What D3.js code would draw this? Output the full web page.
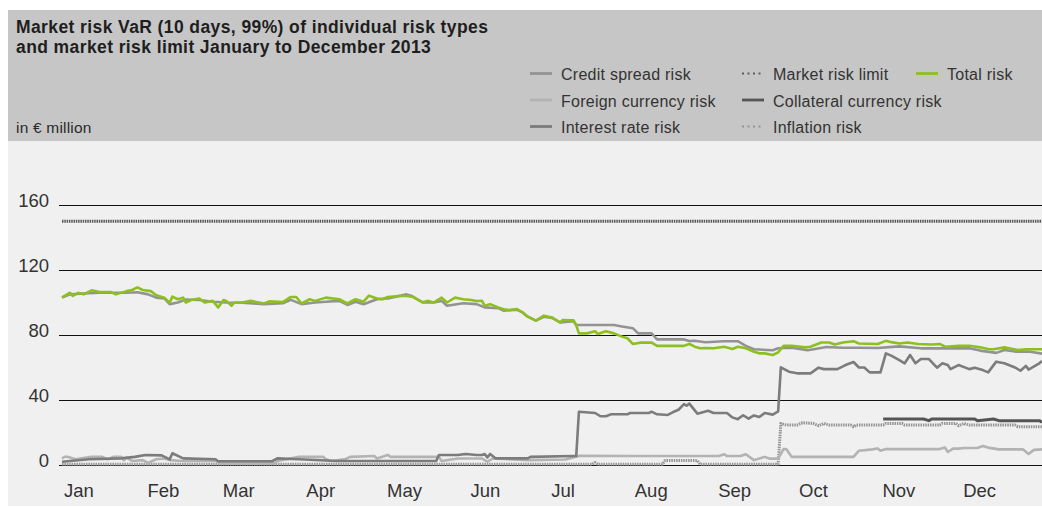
<!DOCTYPE html>
<html><head><meta charset="utf-8">
<script src="https://cdn.jsdelivr.net/npm/d3@7"></script>
<style>
body{margin:0;background:#fff}
svg{display:block}
text{font-family:"Liberation Sans",Arial,sans-serif}
</style></head>
<body><svg id="c" width="1042" height="507"></svg>
<script>
// ---- data: [day of year 2013, value in EUR million] ----
const titleLines = ["Market risk VaR (10 days, 99%) of individual risk types","and market risk limit January to December 2013"];
const unitLabel = "in € million";
const yTicks = [0, 40, 80, 120, 160];

const totalRisk = [[1,103.2],[4,106],[5,104],[7,106],[9,105],[12,107.5],[15,106.5],[19,106.5],[21,105],[25,107],[27,107.7],[29,109.3],[31,107.7],[34,107],[36,104.5],[39,103],[41,99.9],[42,103.6],[44,102],[46,103],[47,100],[49,101.5],[52,102.5],[54,100],[57,101],[59,97],[61,101.5],[62,101],[64,98],[65,100],[68,100],[71,101],[76,99.4],[78,100.7],[83,100.3],[86,103.4],[88,103.4],[90,99.4],[93,102],[95,101],[99,103],[104,102],[107,99.4],[110,102],[111,101.6],[113,100.5],[115,104.2],[118,102.5],[120,102],[122,103.4],[126,104],[129,104],[131,103.6],[135,100.1],[137,101],[139,100],[142,103],[144,100],[147,103],[150,102],[153,101.5],[155,100.9],[157,101],[158,98],[160,99],[163,97],[165,95.8],[167,95.4],[170,96],[172,94],[174,91.3],[177,88.8],[180,91.9],[183,90.8],[186,87.7],[187,89.2],[191,89],[192,86],[193,81],[196,81],[199,82.3],[200,80.6],[203,82.3],[206,81],[209,79],[211,78],[213,74.5],[216,75.3],[220,75.3],[222,73.3],[232,73.3],[234,74.5],[236,72.8],[238,71.8],[240,72],[243,71.8],[247,72.8],[250,71.4],[252,72.8],[255,71.8],[258,69.7],[260,68.7],[262,68.7],[265,67.7],[267,69.3],[269,73.4],[272,73.4],[277,72.4],[279,72.8],[283,75.4],[286,75.4],[288,74.2],[291,75.4],[295,76.2],[297,74.8],[304,74.5],[307,76.4],[309,75.6],[312,74.8],[315,75.4],[319,74.5],[324,74.2],[327,74.5],[329,72.8],[334,73.4],[338,73.4],[342,72.4],[345,71.4],[347,71.2],[351,72.4],[356,70.8],[359,71.2],[365,71.2]];

const creditSpreadRisk = [[1,103],[4,105],[9,105.5],[15,106],[25,106],[29,106.3],[33,105],[36,103],[39,102.5],[41,99],[44,100],[47,101.8],[52,101.5],[57,100.5],[62,100],[68,99.8],[76,99],[83,99.5],[86,101.6],[90,99],[95,100],[99,100.5],[104,101],[107,98.5],[110,100.5],[113,98.9],[118,102],[122,102.5],[129,105],[131,104],[135,100],[139,100],[142,101],[144,98],[150,99.5],[155,99],[158,97],[163,96.5],[165,95],[170,95.5],[172,94],[174,91.3],[177,88.8],[180,91.2],[183,90.5],[186,87.7],[191,88.5],[192,86.2],[206,86.2],[209,85.2],[213,84.2],[215,81],[220,81],[222,77.3],[232,77.3],[234,76.3],[236,76.5],[240,75.5],[247,76.2],[252,76.2],[255,73.3],[258,71.2],[265,70.6],[267,71.8],[272,72.2],[278,70.6],[285,72.6],[291,72.2],[297,72.2],[304,72],[312,73],[320,71.8],[338,71.8],[342,70.4],[348,69],[351,70.8],[355,69.8],[360,69.8],[365,68.5]];

const interestRateRisk = [[1,2],[11,3.5],[23,4.1],[28,5],[32,6.2],[38,5.9],[41,3.5],[42,7.2],[46,4.1],[58,3.5],[59,2.3],[79,2.3],[81,4.1],[89,3.5],[103,2.5],[140,2.5],[141,6.2],[148,6.2],[151,6.8],[155,6.2],[157,6.2],[158,6.8],[159,4.7],[160,6.8],[162,4.1],[174,4.1],[175,5],[191,5.5],[192,5.5],[193,32.8],[199,32],[201,30],[203,30],[205,31.2],[211,31.2],[212,32],[219,32],[220,32.8],[222,31.2],[226,30.8],[228,32.6],[230,34],[232,37.5],[233,36.5],[234,37.8],[237,31.6],[241,33.4],[243,32],[248,32],[250,29.3],[252,28.2],[254,30.6],[256,28.5],[258,30.5],[260,29.5],[262,32],[265,31],[267,33],[268,60.1],[271,57.4],[274,56.4],[279,56.4],[282,59.9],[284,59],[289,59],[292,61.5],[295,63.4],[297,60],[299,60],[301,57],[305,57],[307,68.7],[309,67.3],[312,64.6],[314,62.6],[316,67.7],[318,62.6],[320,65.2],[323,65.2],[326,59.9],[328,62.6],[330,61.5],[331,59],[334,61.5],[338,59],[340,59.9],[343,58.4],[345,57],[348,63.6],[351,62.6],[355,60],[357,58],[359,61],[360,58.7],[364,62.6],[365,64]];

const foreignCurrencyRisk = [[1,4],[2,5.1],[3,5.1],[6,3.5],[12,5],[16,5],[18,3.5],[20,5],[23,5],[24,3],[25,4.5],[27,2.5],[31,3],[33,1.3],[36,3.5],[39,4],[41,3],[46,2.5],[58,2.5],[60,1],[80,1],[81,2.5],[89,5],[98,5],[99,3.5],[101,2.5],[106,3.5],[108,5],[117,5.5],[118,4],[122,6.2],[123,5],[141,5],[142,2.5],[148,4],[157,4],[159,2],[161,4],[174,3],[188,3.4],[193,5.6],[212,5.5],[245,5.5],[247,6.6],[248,5.5],[253,5.5],[255,6.6],[258,3],[262,5],[264,3.9],[267,3.9],[269,9.8],[270,9.8],[272,5],[295,5],[297,8.8],[302,9.6],[304,10.2],[305,8.8],[307,9.8],[327,9.8],[329,10.7],[330,8],[332,10.1],[334,10.1],[336,10.5],[341,10.5],[343,11.7],[345,10.7],[349,9.6],[358,9.6],[360,6.8],[362,9.3],[365,9.6]];

const collateralCurrencyRisk = [[306,28.3],[321,28.3],[323,27.3],[324,28.3],[340,28.3],[341,27.3],[347,28.3],[349,27.3],[364,27.3],[365,26.3]];

const inflationRisk = [[1,0.5],[198,0.5],[199,1.5],[200,0.5],[224,0.5],[225,2.7],[237,2.7],[238,0.5],[267,0.5],[268,25.6],[270,24.6],[274,24.6],[276,26],[280,25.6],[282,24.2],[284,25.6],[286,24.6],[294,24.6],[295,23.6],[296,24.6],[306,24.6],[307,25.6],[313,25.6],[314,24.6],[327,24.6],[328,25.6],[333,25.6],[334,24.2],[336,25.6],[338,24.6],[355,24.6],[356,23.6],[365,23.6]];

const marketRiskLimit = [[1,150],[365,150]];

// ---- drawing ----
const svg = d3.select("#c");
const W = 1042, H = 507;

svg.append("rect").attr("x",8).attr("y",10).attr("width",W-8).attr("height",131).attr("fill","#c6c6c6");
svg.append("rect").attr("x",8).attr("y",141).attr("width",W-8).attr("height",365).attr("fill","#f0f0f0");

svg.selectAll("text.title").data(titleLines).join("text").attr("class","title")
  .attr("x",16).attr("y",(d,i)=>33+i*19.5)
  .attr("font-size",17.5).attr("font-weight","bold").attr("letter-spacing",0.4)
  .attr("fill","#1e1e1e").text(d=>d);
svg.append("text").attr("x",16).attr("y",133).attr("font-size",15.5).attr("letter-spacing",0.2)
  .attr("fill","#2a2a2a").text(unitLabel);

const x = d3.scaleTime().domain([new Date(2013,0,1), new Date(2013,11,31)]).range([62,1042]);
const y = d3.scaleLinear().domain([0,160]).range([465,205]);
const toDate = d => new Date(2013,0,d);

// grid + y labels
const g = svg.append("g");
g.selectAll("line.grid").data(yTicks).join("line").attr("class","grid")
  .attr("x1",59).attr("x2",W).attr("y1",d=>y(d)+0.5).attr("y2",d=>y(d)+0.5)
  .attr("stroke","#111").attr("stroke-width",1).attr("shape-rendering","crispEdges");
g.selectAll("text.yl").data(yTicks).join("text").attr("class","yl")
  .attr("x",49).attr("y",d=>y(d)+1.5).attr("text-anchor","end")
  .attr("font-size",18.5).attr("fill","#333").text(d=>d);

// month labels
const months = d3.timeMonth.range(new Date(2013,0,1), new Date(2014,0,1));
g.selectAll("text.xl").data(months).join("text").attr("class","xl")
  .attr("x",d=>x(d)+2).attr("y",497).attr("font-size",18.5).attr("fill","#333")
  .text(d3.timeFormat("%b"));

const line = d3.line().x(d=>x(toDate(d[0]))).y(d=>y(d[1]));

const series = [
  {name:"Inflation risk", data:inflationRisk, color:"#959595", w:3, dash:"1.5,0.9", ldash:"2,3.5"},
  {name:"Market risk limit", data:marketRiskLimit, color:"#5a5a5a", w:3, dash:"1.5,0.8", ldash:"2,3.5"},
  {name:"Foreign currency risk", data:foreignCurrencyRisk, color:"#b3b3b3", w:2.6},
  {name:"Interest rate risk", data:interestRateRisk, color:"#7c7c7c", w:2.6},
  {name:"Credit spread risk", data:creditSpreadRisk, color:"#939393", w:2.6},
  {name:"Collateral currency risk", data:collateralCurrencyRisk, color:"#555", w:3},
  {name:"Total risk", data:totalRisk, color:"#8dc01e", w:2.6}
];

svg.append("g").selectAll("path").data(series).join("path")
  .attr("d",d=>line(d.data)).attr("fill","none")
  .attr("stroke",d=>d.color).attr("stroke-width",d=>d.w)
  .attr("stroke-dasharray",d=>d.dash||null)
  .attr("stroke-linejoin","round");

// legend
const legendItems = [
  {name:"Credit spread risk", col:0,row:0},
  {name:"Foreign currency risk", col:0,row:1},
  {name:"Interest rate risk", col:0,row:2},
  {name:"Market risk limit", col:1,row:0},
  {name:"Collateral currency risk", col:1,row:1},
  {name:"Inflation risk", col:1,row:2},
  {name:"Total risk", col:2,row:0}
];
const colX = [530, 742, 916];
const lg = svg.append("g");
legendItems.forEach(it=>{
  const s = series.find(d=>d.name===it.name);
  const ly = 73.5 + it.row*26.5;
  lg.append("line").attr("x1",colX[it.col]).attr("x2",colX[it.col]+22)
    .attr("y1",ly).attr("y2",ly).attr("stroke",s.color)
    .attr("stroke-width",s.dash?2.2:2.8).attr("stroke-dasharray",s.ldash||null);
  lg.append("text").attr("x",colX[it.col]+31).attr("y",ly+6.5)
    .attr("font-size",16).attr("letter-spacing",0.25).attr("fill","#333").text(it.name);
});
</script></body></html>
